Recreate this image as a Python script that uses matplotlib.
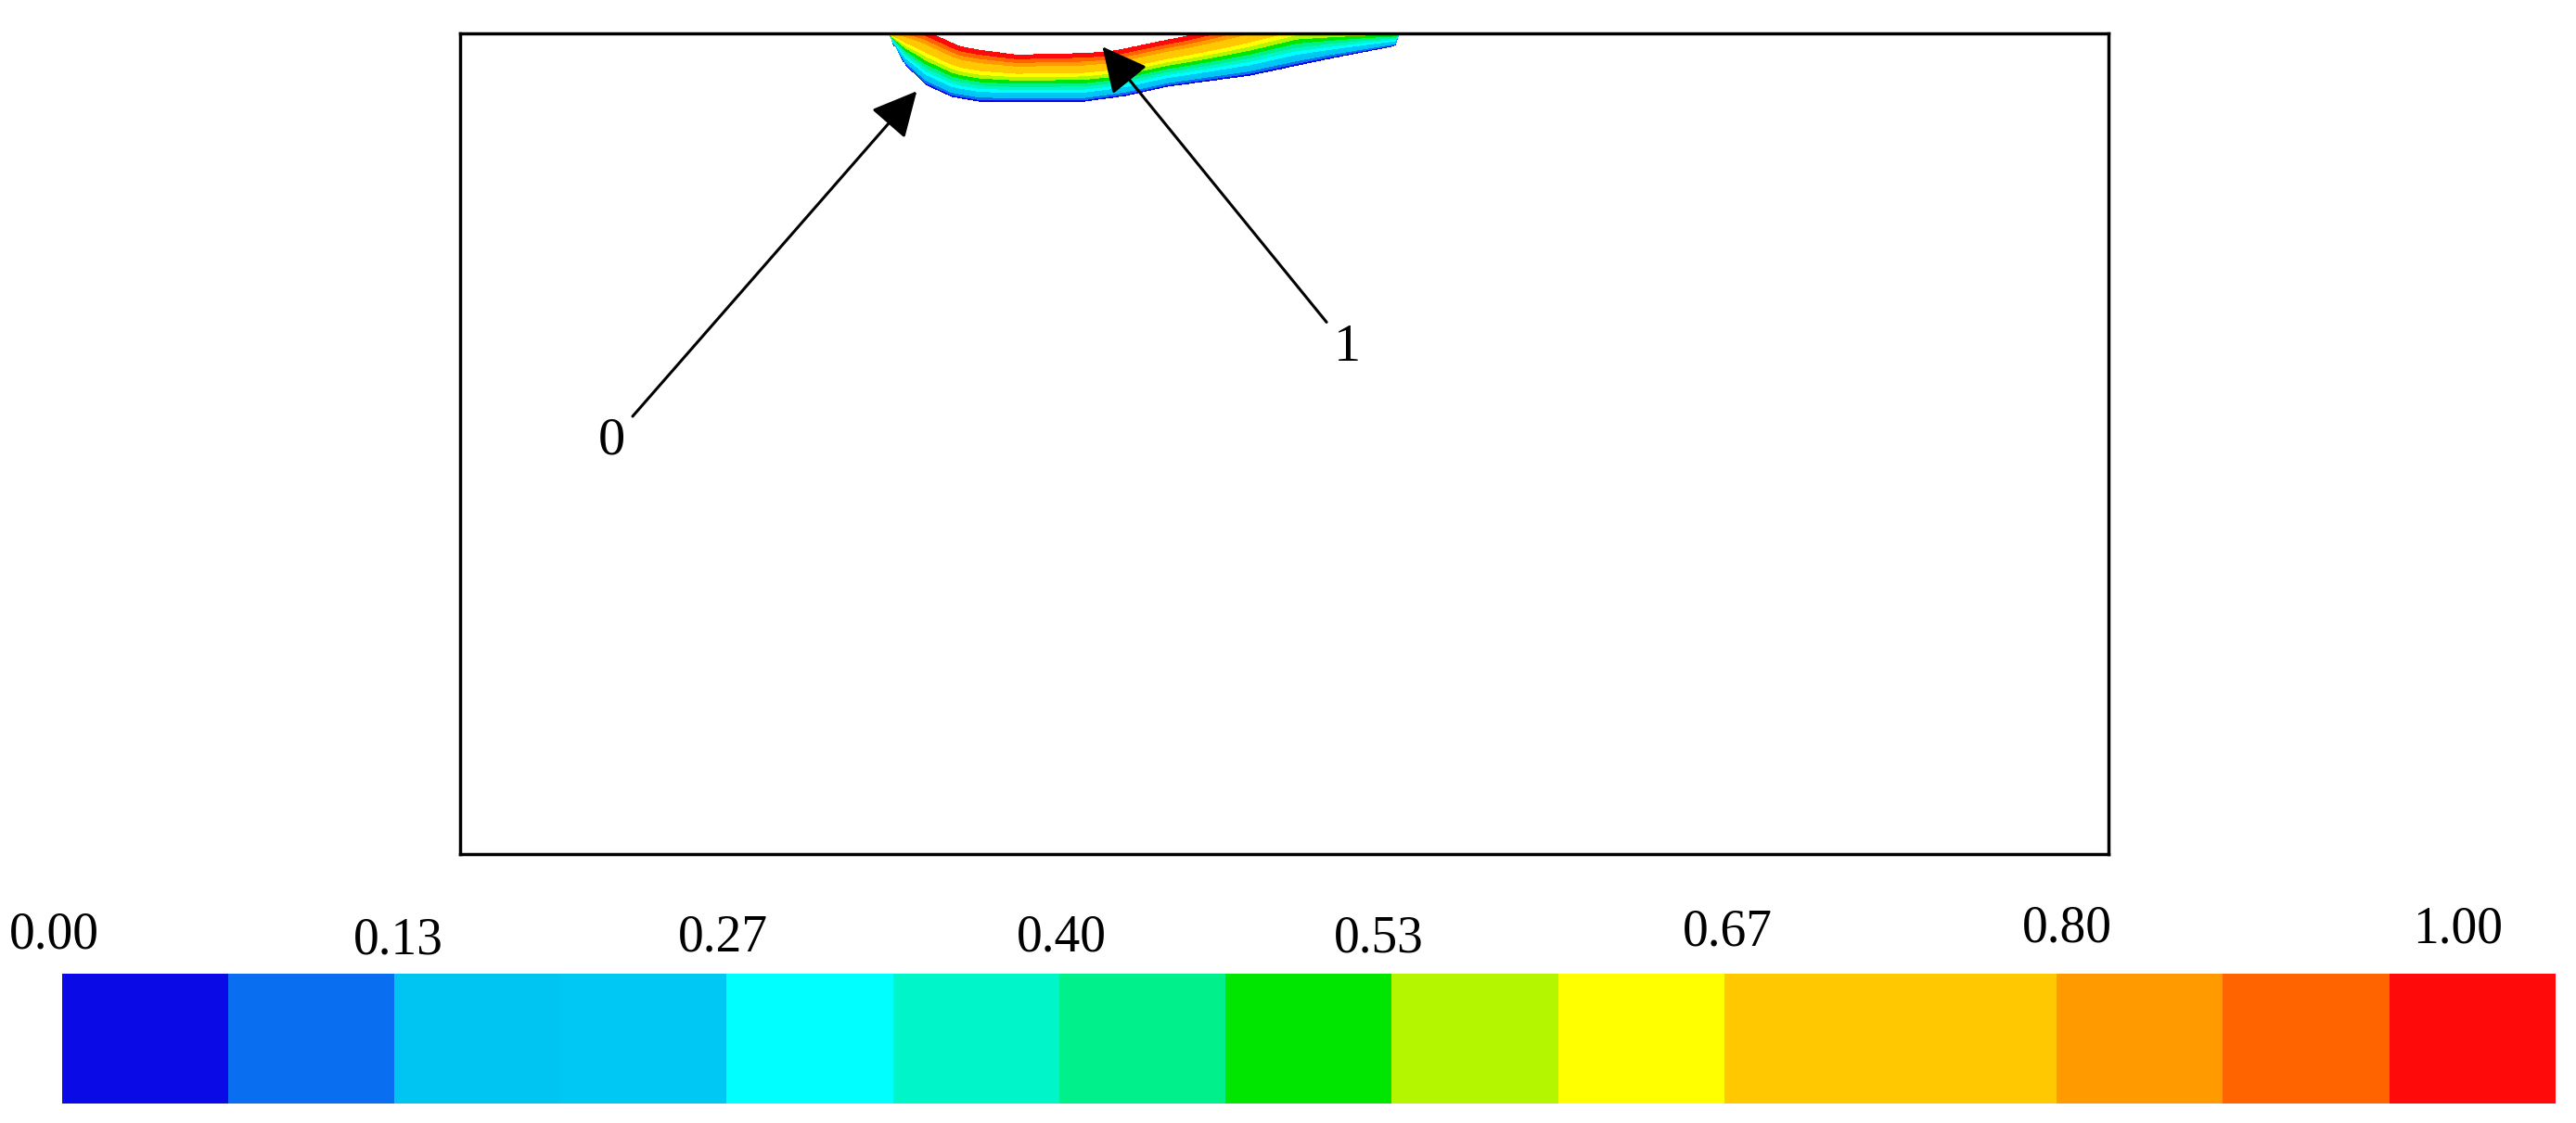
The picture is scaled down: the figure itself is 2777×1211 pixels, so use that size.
import numpy as np
import matplotlib.pyplot as plt
from matplotlib.colors import ListedColormap, BoundaryNorm

# --- 溶融池の外形 (box 内ピクセル座標: x, 深さ) ---
pool_x = [462, 466, 480, 502, 530, 560, 672, 716, 761, 850, 940, 1007, 1012]
pool_depth = [0, 10, 34, 55, 68, 73, 73, 67, 57, 45, 26, 13, 0]
# 表面付近の最大値 (1 を超える部分は白抜き)
heat_x = [462, 500, 540, 600, 700, 780, 850, 900, 1012]
heat_val = [0.80, 0.95, 1.20, 1.35, 1.30, 1.05, 0.80, 0.62, 0.55]

# --- カラーバー ---
band_colors = ['#0a0ae6', '#0a6ef0', '#00c4f2', '#00c8f5', '#00ffff',
               '#00f5c8', '#00f08c', '#00e600', '#b4f500', '#ffff00',
               '#ffc800', '#ffc800', '#ff9b00', '#ff6400', '#ff0a0a']
tick_labels = ['0.00', '0.13', '0.27', '0.40', '0.53', '0.67', '0.80', '1.00']
tick_pos = [-0.003, 0.135, 0.265, 0.401, 0.528, 0.668, 0.804, 0.961]
tick_y = [0.167, 0.162, 0.165, 0.165, 0.164, 0.170, 0.173, 0.172]

W, H = 1776, 885

fig = plt.figure(figsize=(27.77, 12.11), dpi=100)
ax = fig.add_axes([0.1786, 0.2395, 0.640, 0.7305])

xx = np.linspace(0, W, 1600)
yy = np.linspace(0, 100, 300)
X, Y = np.meshgrid(xx, yy)
d0 = np.interp(xx, pool_x, pool_depth)
h = np.interp(xx, heat_x, heat_val)
D0 = np.broadcast_to(d0, X.shape)
frac = 1 - Y / np.maximum(D0, 1e-6)
V = np.where(D0 > 0, np.broadcast_to(h, X.shape) * frac ** 0.8, -1)
V = np.ma.masked_where((V < 0) | (V > 1), V)

levels = np.linspace(0, 1, len(band_colors) + 1)
cmap = ListedColormap(band_colors)
norm = BoundaryNorm(levels, cmap.N)
ax.contourf(X, Y, V, levels=levels, cmap=cmap, norm=norm)

ax.set_xlim(0, W)
ax.set_ylim(H, 0)
ax.set_xticks([])
ax.set_yticks([])
for s in ax.spines.values():
    s.set_linewidth(2.5)

arrow = dict(arrowstyle='-|>', lw=2.2, color='black', mutation_scale=75, shrinkA=6, shrinkB=0)
ax.annotate('0', xy=(492, 62), xytext=(163, 439), fontsize=42, family='Liberation Serif',
            ha='center', va='center', arrowprops=arrow)
ax.annotate('1', xy=(692, 14), xytext=(956, 339), fontsize=42, family='Liberation Serif',
            ha='center', va='center', arrowprops=arrow)

# カラーバー
cax = fig.add_axes([0.024, 0.017, 0.968, 0.116])
cax.pcolormesh(np.arange(len(band_colors) + 1), [0, 1],
               np.arange(len(band_colors))[None, :], cmap=cmap,
               norm=BoundaryNorm(np.arange(len(band_colors) + 1) - 0.5, cmap.N))
cax.set_xlim(0, len(band_colors))
cax.axis('off')
for lab, p, y in zip(tick_labels, tick_pos, tick_y):
    fig.text(0.024 + 0.968 * p, y, lab, fontsize=40, family='Liberation Serif',
             ha='center', va='center')

fig.savefig('out.png')
